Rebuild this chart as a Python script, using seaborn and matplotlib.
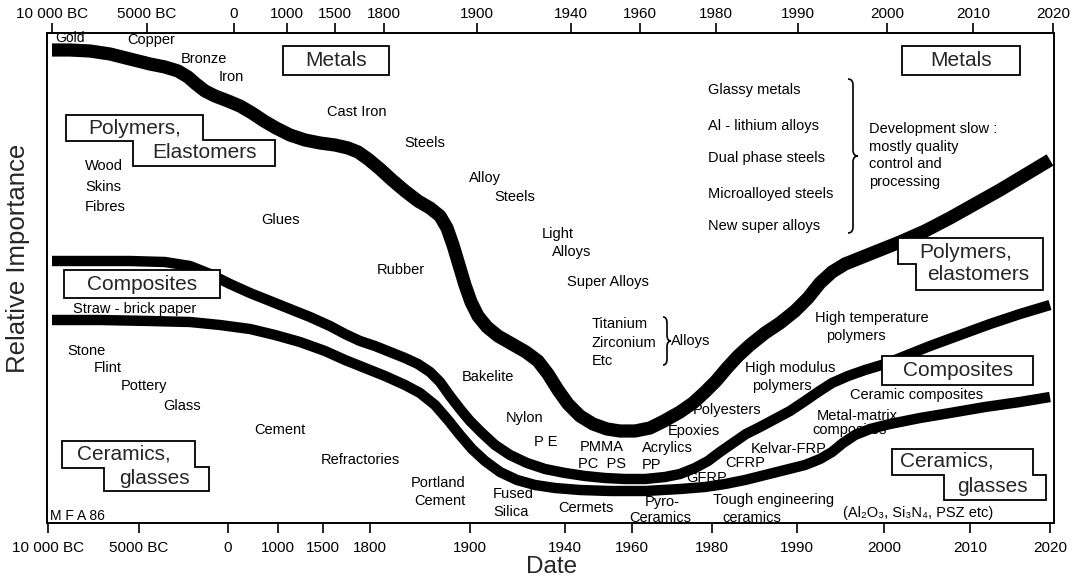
import numpy as np
import pandas as pd
import seaborn as sns
import matplotlib.pyplot as plt
from matplotlib.path import Path
from matplotlib.patches import PathPatch, Polygon

# --- data: timeline position (non-linear date scale) and relative importance ---
tick_labels = ['10 000 BC', '5000 BC', '0', '1000', '1500', '1800', '1900',
               '1940', '1960', '1980', '1990', '2000', '2010', '2020']
bottom_ticks = [48, 139, 228, 278, 323, 370, 470, 565, 632, 712, 797, 884, 970, 1050]
top_ticks = [52, 147, 234, 287, 335, 384, 477, 571, 640, 716, 798, 887, 973, 1053]

metals_x = [52, 70, 90, 110, 130, 150, 165, 178, 188, 196, 205, 215, 228, 240, 252,
            264, 276, 290, 305, 320, 335, 348, 358, 368, 380, 392, 405, 418, 430, 440,
            447, 453, 459, 465, 471, 478, 487, 498, 512, 526, 538, 548, 558, 568, 580,
            593, 607, 620, 635, 650, 664, 680, 693, 705, 716, 727, 738, 750, 765, 780,
            795, 808, 820, 832, 845, 860, 880, 900, 925, 950, 975, 1000, 1025, 1050]
metals_y = [473, 473, 472, 469, 464, 459, 456, 452, 446, 439, 432, 427, 422, 417, 410,
            402, 395, 388, 383, 380, 378, 375, 371, 364, 354, 343, 332, 322, 315, 307,
            295, 278, 258, 238, 221, 207, 196, 187, 179, 171, 162, 149, 133, 119, 107,
            99, 94, 92, 92, 95, 102, 111, 120, 131, 142, 155, 167, 178, 190, 200,
            212, 225, 240, 251, 259, 265, 273, 281, 292, 305, 319, 333, 348, 363]

composites_x = [52, 90, 130, 165, 190, 210, 230, 250, 270, 290, 310, 330, 345, 360,
                375, 390, 405, 418, 430, 440, 450, 460, 470, 482, 495, 510, 527, 545,
                565, 585, 605, 625, 645, 665, 680, 695, 708, 720, 733, 746, 760, 775,
                790, 805, 818, 832, 848, 865, 885, 905, 930, 960, 990, 1020, 1050]
composites_y = [262, 262, 262, 261, 257, 249, 239, 230, 222, 214, 206, 197, 189, 182,
                177, 171, 165, 159, 151, 141, 127, 114, 102, 90, 78, 68, 60, 54,
                50, 47, 45, 44, 44, 46, 49, 55, 62, 71, 80, 89, 96, 104,
                112, 122, 131, 140, 147, 153, 159, 167, 177, 188, 199, 209, 218]

ceramics_x = [52, 100, 150, 190, 220, 250, 275, 300, 325, 345, 365, 385, 405, 420,
              435, 448, 460, 472, 485, 500, 517, 535, 555, 580, 610, 645, 680, 705,
              725, 745, 765, 785, 805, 820, 832, 843, 855, 870, 890, 920, 950, 985,
              1020, 1050]
ceramics_y = [203, 203, 202, 201, 198, 194, 188, 181, 172, 163, 155, 147, 138, 130,
              118, 103, 88, 74, 62, 51, 43, 38, 35, 33, 32, 32, 34, 36,
              39, 43, 48, 53, 58, 64, 71, 80, 88, 94, 99, 105, 110, 116,
              121, 126]

df = pd.concat([
    pd.DataFrame({'timeline': metals_x, 'importance': metals_y, 'boundary': 'metals'}),
    pd.DataFrame({'timeline': composites_x, 'importance': composites_y, 'boundary': 'composites'}),
    pd.DataFrame({'timeline': ceramics_x, 'importance': ceramics_y, 'boundary': 'ceramics'}),
])

sns.set_theme(style="white")
plt.rcParams['font.family'] = ['Liberation Sans', 'DejaVu Sans']

W, H = 1082, 580
TOP = 523  # pixel row of the bottom frame, used to place annotations
fig = plt.figure(figsize=(W / 100, H / 100), dpi=100)
ax = fig.add_axes([47 / W, (H - 523) / H, 1007 / W, 490 / H])

sns.lineplot(data=df, x='timeline', y='importance', hue='boundary', size='boundary',
             palette={'metals': 'black', 'composites': 'black', 'ceramics': 'black'},
             sizes={'metals': 9.5, 'composites': 7.5, 'ceramics': 7.5},
             sort=False, estimator=None, legend=False, ax=ax,
             solid_capstyle='butt', solid_joinstyle='round')

ax.set_xlim(47, 1054)
ax.set_ylim(0, 490)
ax.set_xlabel('')
ax.set_ylabel('')
ax.set_yticks([])
ax.set_xticks(bottom_ticks)
ax.set_xticklabels(tick_labels)
ax.tick_params(axis='x', bottom=True, direction='out', length=7, width=1.2,
               pad=6, labelsize=11, colors='black')
for s in ax.spines.values():
    s.set_color('black')
    s.set_linewidth(1.4)

ax2 = ax.twiny()
ax2.set_xlim(ax.get_xlim())
ax2.set_xticks(top_ticks)
ax2.set_xticklabels(tick_labels)
ax2.tick_params(axis='x', top=True, direction='out', length=7, width=1.2,
                pad=2, labelsize=11, colors='black')
for s in ax2.spines.values():
    s.set_visible(False)


def put(x, py, s, size=10.5, ha='center'):
    ax.text(x, TOP - py, s, ha=ha, va='center', fontsize=size, color='black')


def outline(pts):
    ax.add_patch(Polygon([(x, TOP - y) for x, y in pts], closed=True,
                         fill=True, facecolor='white', edgecolor='black', lw=1.3, zorder=3))


def brace(x, py0, py1, w):
    top, bot = TOP - py0, TOP - py1
    mid = (top + bot) / 2
    d = 6
    verts = [(x - w, top), (x, top), (x, top - d), (x, mid + d),
             (x, mid), (x + w, mid), (x, mid), (x, mid - d),
             (x, bot + d), (x, bot), (x - w, bot)]
    codes = [Path.MOVETO, Path.CURVE3, Path.CURVE3, Path.LINETO,
             Path.CURVE3, Path.CURVE3, Path.CURVE3, Path.CURVE3,
             Path.LINETO, Path.CURVE3, Path.CURVE3]
    ax.add_patch(PathPatch(Path(verts, codes), fill=False, lw=1.2, edgecolor='black'))


# category boxes
big = 15
outline([(283, 46), (389, 46), (389, 75), (283, 75)])
ax.text(336, TOP - 60, 'Metals', ha='center', va='center', fontsize=big, zorder=4)
outline([(902, 46), (1020, 46), (1020, 75), (902, 75)])
ax.text(961, TOP - 60, 'Metals', ha='center', va='center', fontsize=big, zorder=4)

outline([(66, 115), (203, 115), (203, 140), (275, 140), (275, 166), (133, 166),
         (133, 141), (66, 141)])
ax.text(135, TOP - 128, 'Polymers,', ha='center', va='center', fontsize=big, zorder=4)
ax.text(204, TOP - 153, 'Elastomers', ha='center', va='center', fontsize=big, zorder=4)

outline([(64, 270), (220, 270), (220, 298), (64, 298)])
ax.text(142, TOP - 284, 'Composites', ha='center', va='center', fontsize=big, zorder=4)

outline([(62, 441), (195, 441), (195, 467), (209, 467), (209, 491), (104, 491),
         (104, 468), (62, 468)])
ax.text(124, TOP - 454, 'Ceramics,', ha='center', va='center', fontsize=big, zorder=4)
ax.text(154, TOP - 478, 'glasses', ha='center', va='center', fontsize=big, zorder=4)

outline([(898, 238), (1043, 238), (1043, 290), (916, 290), (916, 264), (898, 264)])
ax.text(966, TOP - 252, 'Polymers,', ha='center', va='center', fontsize=big, zorder=4)
ax.text(978, TOP - 275, 'elastomers', ha='center', va='center', fontsize=big, zorder=4)

outline([(882, 356), (1033, 356), (1033, 385), (882, 385)])
ax.text(958, TOP - 370, 'Composites', ha='center', va='center', fontsize=big, zorder=4)

outline([(892, 449), (1033, 449), (1033, 475), (1046, 475), (1046, 500), (944, 500),
         (944, 475), (892, 475)])
ax.text(947, TOP - 461, 'Ceramics,', ha='center', va='center', fontsize=big, zorder=4)
ax.text(992, TOP - 486, 'glasses', ha='center', va='center', fontsize=big, zorder=4)

# metals labels
put(70, 38, 'Gold', size=10)
put(151, 40, 'Copper')
put(204, 59, 'Bronze')
put(231, 77, 'Iron')
put(357, 112, 'Cast Iron')
put(425, 143, 'Steels')
put(485, 178, 'Alloy')
put(515, 197, 'Steels')
put(558, 234, 'Light')
put(572, 252, 'Alloys')
put(608, 282, 'Super Alloys')
put(592, 324, 'Titanium', ha='left')
put(592, 343, 'Zirconium', ha='left')
put(592, 361, 'Etc', ha='left')
brace(667, 317, 365, 4)
put(671, 341, 'Alloys', ha='left')

for txt, py in [('Glassy metals', 90), ('Al - lithium alloys', 126),
                ('Dual phase steels', 158), ('Microalloyed steels', 194),
                ('New super alloys', 226)]:
    put(708, py, txt, ha='left')
brace(853, 79, 233, 5)
for txt, py in [('Development slow :', 129), ('mostly quality', 147),
                ('control and', 164), ('processing', 182)]:
    put(869, py, txt, ha='left')

# polymers labels
put(85, 166, 'Wood', ha='left')
put(85, 187, 'Skins', ha='left')
put(85, 207, 'Fibres', ha='left')
put(280, 220, 'Glues')
put(401, 270, 'Rubber')
put(488, 377, 'Bakelite')
put(525, 418, 'Nylon')
put(546, 442, 'P E')
put(602, 447, 'PMMA')
put(602, 464, 'PC  PS')
put(642, 448, 'Acrylics', ha='left')
put(642, 465, 'PP', ha='left')
put(694, 431, 'Epoxies')
put(727, 410, 'Polyesters')
put(790, 368, 'High modulus')
put(782, 386, 'polymers')
put(872, 318, 'High temperature')
put(856, 336, 'polymers')

# composites labels
put(135, 309, 'Straw - brick paper')
put(707, 478, 'GFRP')
put(745, 463, 'CFRP')
put(789, 449, 'Kelvar-FRP')
put(857, 416, 'Metal-matrix')
put(850, 430, 'composites')
put(917, 395, 'Ceramic composites')

# ceramics labels
put(67, 351, 'Stone', ha='left')
put(108, 368, 'Flint')
put(144, 386, 'Pottery')
put(182, 406, 'Glass')
put(280, 430, 'Cement')
put(360, 460, 'Refractories')
put(438, 483, 'Portland')
put(440, 501, 'Cement')
put(493, 494, 'Fused', ha='left')
put(493, 512, 'Silica', ha='left')
put(586, 508, 'Cermets')
put(662, 502, 'Pyro-')
put(660, 518, 'Ceramics')
put(713, 500, 'Tough engineering', ha='left')
put(752, 518, 'ceramics')
put(918, 513, '(Al\u2082O\u2083, Si\u2083N\u2084, PSZ etc)')
put(50, 516, 'M F A 86', size=10, ha='left')

fig.text(552 / W, 1 - 567 / H, 'Date', ha='center', va='center', fontsize=17.5)
fig.text(18 / W, 1 - 258 / H, 'Relative Importance', ha='center', va='center',
         rotation=90, fontsize=18.5)

fig.savefig('out.png', dpi=100, facecolor='white')
